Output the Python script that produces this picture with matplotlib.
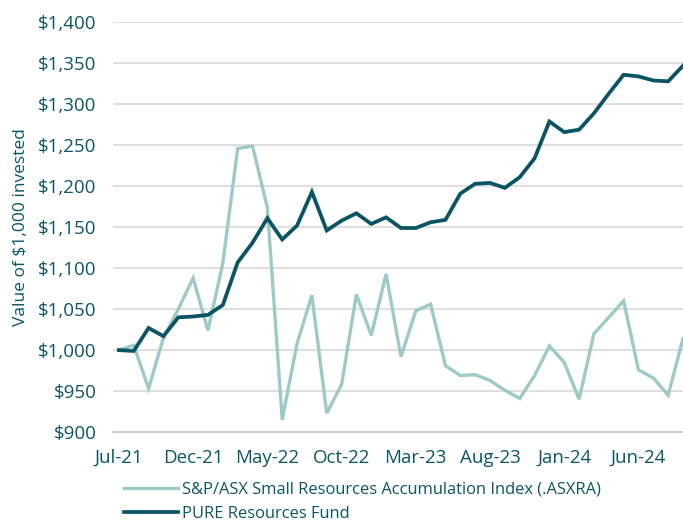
import pandas as pd
import matplotlib.pyplot as plt

# monthly values of $1,000 invested, Jul-21 .. Sep-24
months = pd.date_range("2021-07-01", periods=39, freq="MS").strftime("%b-%y")

index_vals = [1000, 1006, 953, 1015, 1050, 1088, 1024, 1106, 1246, 1249,
              1174, 915, 1008, 1067, 923, 958, 1068, 1018, 1093, 992,
              1048, 1056, 981, 969, 970, 963, 951, 941, 969, 1005,
              985, 940, 1020, 1040, 1060, 976, 966, 945, 1014]

fund_vals = [1000, 999, 1027, 1017, 1040, 1041, 1043, 1055, 1107, 1131,
             1161, 1135, 1152, 1193, 1146, 1158, 1167, 1154, 1162, 1149,
             1149, 1156, 1159, 1191, 1203, 1204, 1198, 1211, 1234, 1279,
             1266, 1269, 1289, 1313, 1336, 1334, 1329, 1328, 1347]

index_label = "S&P/ASX Small Resources Accumulation Index (.ASXRA)"
fund_label = "PURE Resources Fund"

text_col = "#0b5566"
dark = "#0a5464"
light = "#9dc9c7"

plt.rcParams["font.family"] = ["Open Sans", "DejaVu Sans"]

fig = plt.figure(figsize=(6.83, 5.25), dpi=100)
ax = fig.add_axes([0.1654, 0.177, 0.8346, 0.7805])

x = list(range(len(months)))
ax.plot(x, index_vals, color=light, lw=2.4, label=index_label, solid_joinstyle="miter")
ax.plot(x, fund_vals, color=dark, lw=2.7, label=fund_label, solid_joinstyle="miter")

ax.set_ylim(900, 1400)
ax.set_xlim(-0.4, len(months) - 1)
ax.set_yticks(range(900, 1401, 50))
ax.set_yticklabels([f"${v:,}" for v in range(900, 1401, 50)])
ax.set_xticks(x[::5])
ax.set_xticklabels(months[::5])

ax.grid(axis="y", color="#d9d9d9", lw=1.2)
ax.set_axisbelow(True)
for s in ["top", "right", "left"]:
    ax.spines[s].set_visible(False)
ax.spines["bottom"].set_color("#c8c8c8")
ax.spines["bottom"].set_linewidth(1.2)
ax.tick_params(length=0, labelsize=13.5, colors=text_col)
ax.tick_params(axis="x", pad=12)
ax.tick_params(axis="y", pad=12)

ax.set_ylabel("Value of $1,000 invested", fontsize=12.5, color=text_col, labelpad=6)

leg = fig.legend(loc="upper left", bbox_to_anchor=(0.181, 0.082), frameon=False,
                 fontsize=11.85, handlelength=3.3, handletextpad=0.25,
                 labelspacing=0.5, borderpad=0, borderaxespad=0)
for t in leg.get_texts():
    t.set_color(text_col)

fig.savefig("out.png", dpi=100)
